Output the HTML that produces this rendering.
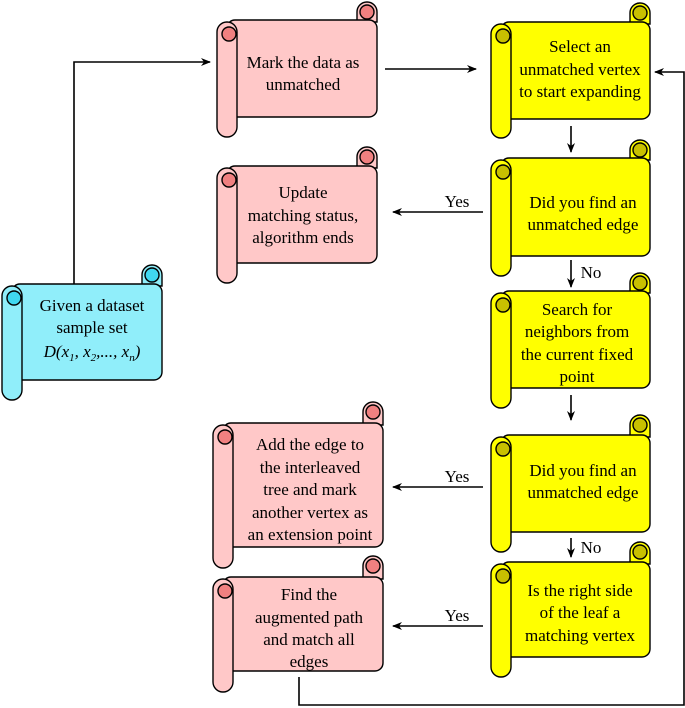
<!DOCTYPE html>
<html><head><meta charset="utf-8"><style>
html,body{margin:0;padding:0;background:#fff;}
svg{display:block;}
text{font-family:"Liberation Serif",serif;font-size:17px;fill:#000;text-anchor:middle;}
</style></head><body>
<svg width="685" height="708" viewBox="0 0 685 708" xmlns="http://www.w3.org/2000/svg">
<defs>
<marker id="a" markerWidth="10" markerHeight="8" refX="9" refY="4" orient="auto" markerUnits="userSpaceOnUse"><path d="M0,0 L10,4 L0,8 L3,4 Z" fill="#000"/></marker>
</defs>
<g stroke="#000" stroke-width="1.6" fill="none">
<!-- connectors -->
<polyline points="74,284 74,62 210,62" marker-end="url(#a)"/>
<line x1="385" y1="69" x2="476" y2="69" marker-end="url(#a)"/>
<polyline points="299,677 299,705 684,705 684,72 655,72" marker-end="url(#a)"/>
<line x1="571" y1="126" x2="571" y2="152" marker-end="url(#a)"/>
<line x1="571" y1="260" x2="571" y2="287" marker-end="url(#a)"/>
<line x1="571" y1="395" x2="571" y2="420" marker-end="url(#a)"/>
<line x1="571" y1="538" x2="571" y2="557" marker-end="url(#a)"/>
<line x1="483" y1="212" x2="393" y2="212" marker-end="url(#a)"/>
<line x1="483" y1="487" x2="393" y2="487" marker-end="url(#a)"/>
<line x1="483" y1="626" x2="393" y2="626" marker-end="url(#a)"/>
</g>
<g>
<text x="457" y="207">Yes</text>
<text x="457" y="482">Yes</text>
<text x="457" y="621">Yes</text>
<text x="591" y="278">No</text>
<text x="591" y="553">No</text>
</g>

<!-- scroll template rendered per box -->
<g stroke="#000" stroke-width="1.4">
<!-- Cyan x=2 R=162 ct=265 bt=284 bb=380 rb=400 -->
<path d="M142,286 V275 A10,10 0 0 1 162,275 V286 Z" fill="#90eefa"/>
<rect x="12" y="284" width="150" height="96" rx="8" fill="#90eefa"/>
<circle cx="152" cy="275" r="7" fill="#40d8f0"/>
<rect x="2" y="286" width="20" height="114" rx="10" fill="#90eefa"/>
<circle cx="14" cy="298" r="7" fill="#40d8f0"/>

<!-- Pink1 x=217 R=377 ct=2 bt=20 bb=117 rb=137 -->
<path d="M357,22 V12 A10,10 0 0 1 377,12 V22 Z" fill="#ffc8c8"/>
<rect x="227" y="20" width="150" height="97" rx="8" fill="#ffc8c8"/>
<circle cx="367" cy="12" r="7" fill="#f08080"/>
<rect x="217" y="22" width="20" height="115" rx="10" fill="#ffc8c8"/>
<circle cx="229" cy="34" r="7" fill="#f08080"/>

<!-- Pink2 ct=147 bt=166 bb=263 rb=283 -->
<path d="M357,168 V157 A10,10 0 0 1 377,157 V168 Z" fill="#ffc8c8"/>
<rect x="227" y="166" width="150" height="97" rx="8" fill="#ffc8c8"/>
<circle cx="367" cy="157" r="7" fill="#f08080"/>
<rect x="217" y="168" width="20" height="115" rx="10" fill="#ffc8c8"/>
<circle cx="229" cy="180" r="7" fill="#f08080"/>

<!-- Pink3 x=213 R=383 ct=402 bt=423 bb=547 rb=568 -->
<path d="M363,425 V412 A10,10 0 0 1 383,412 V425 Z" fill="#ffc8c8"/>
<rect x="223" y="423" width="160" height="124" rx="8" fill="#ffc8c8"/>
<circle cx="373" cy="412" r="7" fill="#f08080"/>
<rect x="213" y="425" width="20" height="143" rx="10" fill="#ffc8c8"/>
<circle cx="225" cy="437" r="7" fill="#f08080"/>

<!-- Pink4 ct=556 bt=577 bb=671 rb=692 -->
<path d="M363,579 V566 A10,10 0 0 1 383,566 V579 Z" fill="#ffc8c8"/>
<rect x="223" y="577" width="160" height="94" rx="8" fill="#ffc8c8"/>
<circle cx="373" cy="566" r="7" fill="#f08080"/>
<rect x="213" y="579" width="20" height="113" rx="10" fill="#ffc8c8"/>
<circle cx="225" cy="591" r="7" fill="#f08080"/>

<!-- Y1 x=491 R=650 ct=3 bt=22 bb=119 rb=138 -->
<path d="M630,24 V13 A10,10 0 0 1 650,13 V24 Z" fill="#ffff00"/>
<rect x="501" y="22" width="149" height="97" rx="8" fill="#ffff00"/>
<circle cx="640" cy="13" r="7" fill="#c8c000"/>
<rect x="491" y="24" width="20" height="114" rx="10" fill="#ffff00"/>
<circle cx="503" cy="36" r="7" fill="#c8c000"/>

<!-- Y2 ct=140 bt=158 bb=256 rb=276 -->
<path d="M630,160 V150 A10,10 0 0 1 650,150 V160 Z" fill="#ffff00"/>
<rect x="501" y="158" width="149" height="98" rx="8" fill="#ffff00"/>
<circle cx="640" cy="150" r="7" fill="#c8c000"/>
<rect x="491" y="160" width="20" height="116" rx="10" fill="#ffff00"/>
<circle cx="503" cy="172" r="7" fill="#c8c000"/>

<!-- Y3 ct=273 bt=291 bb=388 rb=408 -->
<path d="M630,293 V283 A10,10 0 0 1 650,283 V293 Z" fill="#ffff00"/>
<rect x="501" y="291" width="149" height="97" rx="8" fill="#ffff00"/>
<circle cx="640" cy="283" r="7" fill="#c8c000"/>
<rect x="491" y="293" width="20" height="115" rx="10" fill="#ffff00"/>
<circle cx="503" cy="305" r="7" fill="#c8c000"/>

<!-- Y4 ct=415 bt=435 bb=532 rb=552 -->
<path d="M630,437 V425 A10,10 0 0 1 650,425 V437 Z" fill="#ffff00"/>
<rect x="501" y="435" width="149" height="97" rx="8" fill="#ffff00"/>
<circle cx="640" cy="425" r="7" fill="#c8c000"/>
<rect x="491" y="437" width="20" height="115" rx="10" fill="#ffff00"/>
<circle cx="503" cy="449" r="7" fill="#c8c000"/>

<!-- Y5 ct=542 bt=562 bb=657 rb=677 -->
<path d="M630,564 V552 A10,10 0 0 1 650,552 V564 Z" fill="#ffff00"/>
<rect x="501" y="562" width="149" height="95" rx="8" fill="#ffff00"/>
<circle cx="640" cy="552" r="7" fill="#c8c000"/>
<rect x="491" y="564" width="20" height="113" rx="10" fill="#ffff00"/>
<circle cx="503" cy="576" r="7" fill="#c8c000"/>
</g>

<!-- texts -->
<text x="92" y="311">Given a dataset</text>
<text x="92" y="333">sample set</text>
<text x="92" y="357" style="font-style:italic">D(x<tspan font-size="11" dy="4">1</tspan><tspan dy="-4">, x</tspan><tspan font-size="11" dy="4">2</tspan><tspan dy="-4">,..., x</tspan><tspan font-size="11" dy="4">n</tspan><tspan dy="-4">)</tspan></text>

<text x="303" y="68">Mark the data as</text>
<text x="303" y="90">unmatched</text>

<text x="580" y="52">Select an</text>
<text x="580" y="75">unmatched vertex</text>
<text x="580" y="97">to start expanding</text>

<text x="303" y="198">Update</text>
<text x="303" y="221">matching status,</text>
<text x="303" y="243">algorithm ends</text>

<text x="583" y="208">Did you find an</text>
<text x="583" y="230">unmatched edge</text>

<text x="577" y="315">Search for</text>
<text x="577" y="337">neighbors from</text>
<text x="577" y="360">the current fixed</text>
<text x="577" y="382">point</text>

<text x="310" y="450">Add the edge to</text>
<text x="310" y="473">the interleaved</text>
<text x="310" y="495">tree and mark</text>
<text x="310" y="518">another vertex as</text>
<text x="310" y="540">an extension point</text>

<text x="583" y="476">Did you find an</text>
<text x="583" y="498">unmatched edge</text>

<text x="580" y="596">Is the right side</text>
<text x="580" y="618">of the leaf a</text>
<text x="580" y="641">matching vertex</text>

<text x="309" y="600">Find the</text>
<text x="309" y="623">augmented path</text>
<text x="309" y="645">and match all</text>
<text x="309" y="667">edges</text>
</svg>
</body></html>
